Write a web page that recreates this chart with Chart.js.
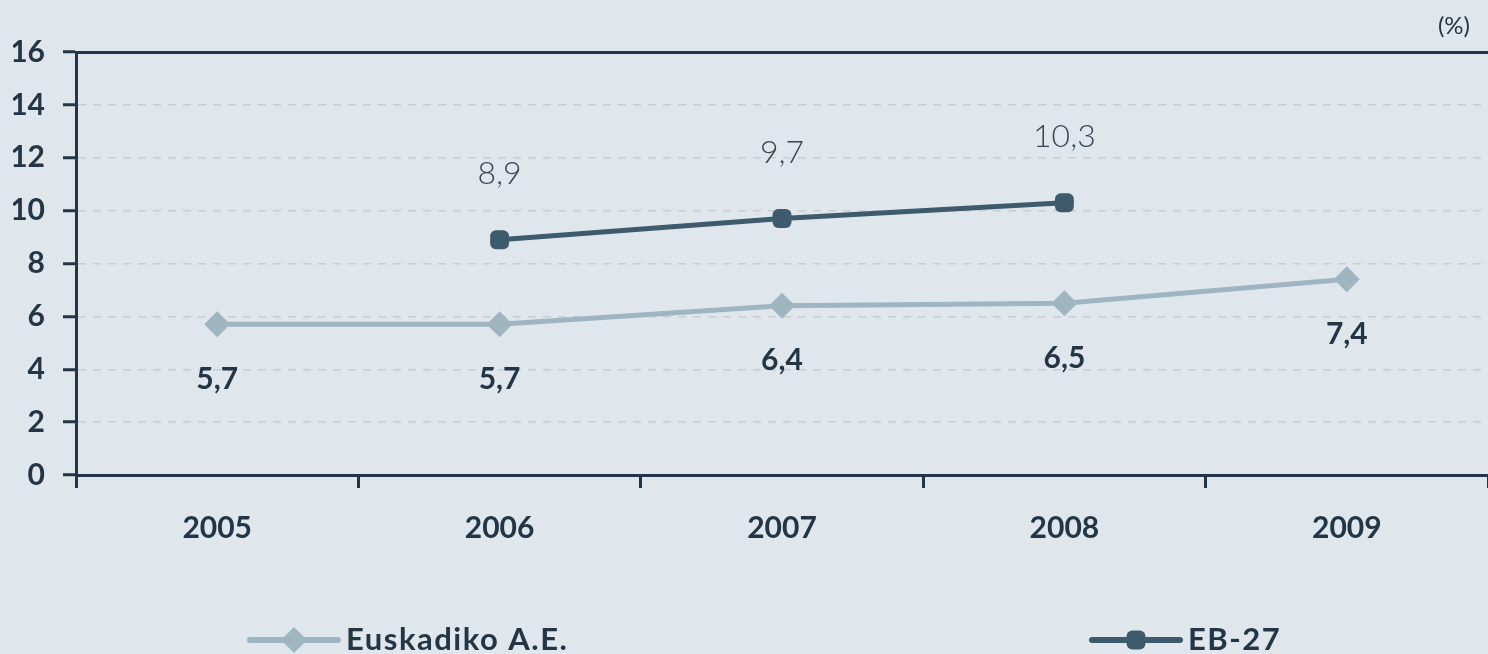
<!DOCTYPE html>
<html>
<head>
<meta charset="utf-8">
<script src="https://cdn.jsdelivr.net/npm/chart.js@4/dist/chart.umd.min.js"></script>
<style>
  html, body { margin: 0; padding: 0; background: #dfe7ed; overflow: hidden; }
  #wrap { width: 1488px; height: 654px; overflow: hidden; }
  canvas { display: block; }
</style>
</head>
<body>
<div id="wrap">
<canvas id="chart" width="1501" height="654" style="width:1501px;height:654px"></canvas>
</div>
<script>
'use strict';

// data
var years = ['2005', '2006', '2007', '2008', '2009'];
var euskadi = [5.7, 5.7, 6.4, 6.5, 7.4];
var eb27 = [null, 8.9, 9.7, 10.3, null];
var seriesNames = ['Euskadiko A.E.', 'EB-27'];
var yTicks = [0, 2, 4, 6, 8, 10, 12, 14, 16];

var dark = '#243645';
var lightLine = '#9fb6c1';
var darkLine = '#3e5a6d';

function fmt(v) {
  return String(v.toFixed(1)).replace('.', ',');
}

// value labels: below for Euskadi (bold), above for EB-27 (light)
var valueLabels = {
  id: 'valueLabels',
  afterDatasetsDraw: function (chart) {
    var ctx = chart.ctx;
    ctx.save();
    ctx.textAlign = 'center';
    ctx.textBaseline = 'middle';
    chart.data.datasets.forEach(function (ds, di) {
      var meta = chart.getDatasetMeta(di);
      meta.data.forEach(function (pt, i) {
        var v = ds.data[i];
        if (v === null || v === undefined) return;
        if (di === 0) {
          ctx.font = 'bold 30px Lato';
          ctx.fillStyle = dark;
          ctx.fillText(fmt(v), pt.x, pt.y + 55);
        } else {
          ctx.font = '300 32px Lato';
          ctx.fillStyle = '#3a4753';
          ctx.fillText(fmt(v), pt.x, pt.y - 66);
        }
      });
    });
    ctx.restore();
  }
};

// unit mark and legend
var extras = {
  id: 'extras',
  afterDraw: function (chart) {
    var ctx = chart.ctx;
    ctx.save();
    ctx.font = '24px Lato';
    ctx.fillStyle = dark;
    ctx.textAlign = 'right';
    ctx.textBaseline = 'middle';
    ctx.fillText('(%)', 1470, 26);

    var items = [
      { x: 250, color: lightLine, style: 'rectRot', r: 13 },
      { x: 1092, color: darkLine, style: 'rectRounded', r: 11 }
    ];
    var y = 640;
    items.forEach(function (it, i) {
      ctx.strokeStyle = it.color;
      ctx.lineWidth = 6;
      ctx.lineCap = 'round';
      ctx.beginPath();
      ctx.moveTo(it.x, y);
      ctx.lineTo(it.x + 88, y);
      ctx.stroke();
      ctx.fillStyle = it.color;
      Chart.helpers.drawPoint(ctx, { pointStyle: it.style, radius: it.r, borderWidth: 0, rotation: 0 }, it.x + 44, y);
      ctx.fillStyle = dark;
      ctx.font = 'bold 31px Lato';
      ctx.textAlign = 'left';
      ctx.textBaseline = 'middle';
      if (ctx.letterSpacing !== undefined) ctx.letterSpacing = '1.5px';
      ctx.fillText(seriesNames[i], it.x + 96, y);
      if (ctx.letterSpacing !== undefined) ctx.letterSpacing = '0px';
    });
    ctx.restore();
  }
};

var ctx = document.getElementById('chart').getContext('2d');
var chart = new Chart(ctx, {
  type: 'line',
  data: {
    labels: years,
    datasets: [{
      label: seriesNames[0],
      data: euskadi,
      borderColor: lightLine,
      backgroundColor: lightLine,
      borderWidth: 5,
      pointStyle: 'rectRot',
      pointRadius: 13,
      pointHoverRadius: 13,
      pointBorderWidth: 0,
      tension: 0,
      clip: false
    }, {
      label: seriesNames[1],
      data: eb27,
      borderColor: darkLine,
      backgroundColor: darkLine,
      borderWidth: 5,
      pointStyle: 'rectRounded',
      pointRadius: 11,
      pointHoverRadius: 11,
      pointBorderWidth: 0,
      tension: 0,
      clip: false
    }]
  },
  options: {
    responsive: false,
    animation: false,
    layout: { padding: { left: 13, right: 0, top: 52, bottom: 107 } },
    plugins: {
      legend: { display: false },
      tooltip: { enabled: false }
    },
    scales: {
      x: {
        type: 'category',
        offset: true,
        afterFit: function (axis) { axis.height = 72; },
        grid: {
          offset: true,
          drawOnChartArea: false,
          drawTicks: true,
          tickLength: 13,
          tickWidth: 3,
          tickColor: dark
        },
        border: { display: true, color: dark, width: 3 },
        ticks: {
          color: dark,
          font: { family: 'Lato', size: 30, weight: 'bold' },
          padding: 22
        }
      },
      x2: {
        type: 'category',
        position: 'top',
        labels: years,
        offset: true,
        afterFit: function (axis) { axis.height = 0; },
        grid: { display: false, drawTicks: false },
        border: { display: true, color: dark, width: 3 },
        ticks: { display: false }
      },
      y: {
        min: 0,
        max: 16,
        afterFit: function (axis) { axis.width = 63; },
        afterBuildTicks: function (axis) {
          axis.ticks = yTicks.map(function (v) { return { value: v }; });
        },
        grid: {
          color: '#c9cdd0',
          lineWidth: 1.5,
          drawTicks: true,
          tickLength: 13,
          tickWidth: 3,
          tickColor: dark
        },
        border: { display: true, color: dark, width: 3, dash: [8, 7] },
        ticks: {
          color: dark,
          font: { family: 'Lato', size: 30, weight: 'bold' },
          padding: 18
        }
      }
    }
  },
  plugins: [valueLabels, extras]
});
</script>
</body>
</html>
